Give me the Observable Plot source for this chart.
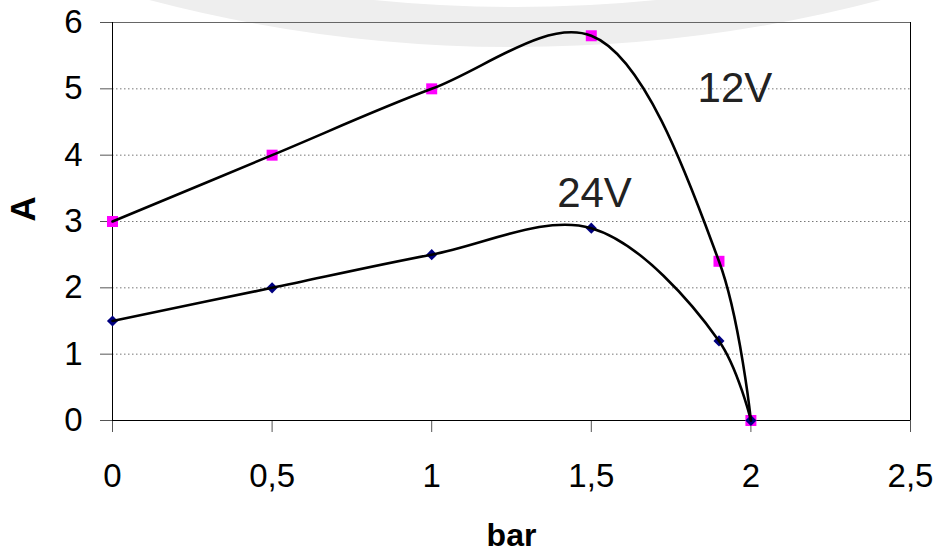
<!DOCTYPE html>
<html>
<head>
<meta charset="utf-8">
<script src="https://cdn.jsdelivr.net/npm/d3@7"></script>
<script src="https://cdn.jsdelivr.net/npm/@observablehq/plot@0.6"></script>
<style>
  html, body { margin: 0; padding: 0; background: white; }
  #chart { width: 933px; height: 552px; }
</style>
</head>
<body>
<div id="chart"></div>
<script>
// --- data ---
const pressure = [0, 0.5, 1, 1.5, 1.9, 2];
const current12V = [3, 4, 5, 5.8, 2.4, 0];
const current24V = [1.5, 2, 2.5, 2.9, 1.2, 0];
const xTicks = [0, 0.5, 1, 1.5, 2, 2.5];
const yTicks = [0, 1, 2, 3, 4, 5, 6];
const gridValues = [1, 2, 3, 4, 5];
const seriesLabels = ["12V", "24V"];
const labelX = [1.95, 1.51];
const labelY = [5.0, 3.42];

const s12 = pressure.map((x, i) => ({x, y: current12V[i]}));
const s24 = pressure.map((x, i) => ({x, y: current24V[i]}));
const labels = seriesLabels.map((t, i) => ({t, x: labelX[i], y: labelY[i]}));

// decorative light-grey ring at the top (background watermark)
const ring = () => {
  const c = document.createElementNS("http://www.w3.org/2000/svg", "circle");
  c.setAttribute("cx", 515);
  c.setAttribute("cy", -1394);
  c.setAttribute("r", 1421);
  c.setAttribute("fill", "none");
  c.setAttribute("stroke", "#eeeeee");
  c.setAttribute("stroke-width", 40);
  return c;
};

const chart = Plot.plot({
  width: 933,
  height: 552,
  marginLeft: 112,
  marginRight: 23,
  marginTop: 22,
  marginBottom: 132,
  x: {domain: [0, 2.5]},
  y: {domain: [0, 6]},
  style: {fontFamily: "'Liberation Sans', Arial, sans-serif", fontSize: "33px", background: "transparent", overflow: "visible", color: "black"},
  marks: [
    ring,
    Plot.gridY(gridValues, {stroke: "#777", strokeOpacity: 1, strokeDasharray: "1.5,2.5"}),
    Plot.axisX(xTicks, {tickSize: 12, tickPadding: 31, tickFormat: d => String(d).replace(".", ","), stroke: "#555", fill: "black", label: null}),
    Plot.axisY(yTicks, {tickSize: 12, tickPadding: 18, tickFormat: d => String(d), stroke: "#555", fill: "black", label: null}),
    Plot.ruleY([6], {stroke: "#666"}),
    Plot.ruleX([2.5], {stroke: "black"}),
    Plot.ruleY([0], {stroke: "black"}),
    Plot.ruleX([0], {stroke: "black"}),
    Plot.dot(s12, {x: "x", y: "y", symbol: "square", r: 6.2, fill: "#ff00ff", stroke: "none"}),
    Plot.dot(s24, {x: "x", y: "y", symbol: "diamond2", r: 5, fill: "#000080", stroke: "none"}),
    Plot.line(s12, {x: "x", y: "y", curve: "catmull-rom", stroke: "black", strokeWidth: 2.6}),
    Plot.line(s24, {x: "x", y: "y", curve: "catmull-rom", stroke: "black", strokeWidth: 2.6}),
    Plot.text(labels, {x: "x", y: "y", text: "t", fontSize: 42, fill: "#222", lineAnchor: "middle"}),
    Plot.text(["bar"], {frameAnchor: "bottom", text: d => d, dy: 125, lineAnchor: "bottom", fontWeight: "bold", fontSize: 32}),
    Plot.text(["A"], {frameAnchor: "left", text: d => d, dx: -89, rotate: -90, lineAnchor: "middle", fontWeight: "bold", fontSize: 35})
  ]
});
document.getElementById("chart").appendChild(chart);
</script>
</body>
</html>
